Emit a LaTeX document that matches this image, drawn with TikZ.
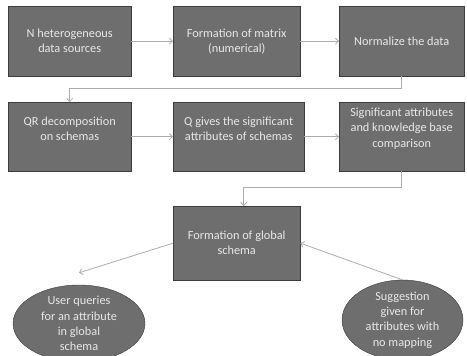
\documentclass[tikz,border=0pt]{standalone}
\usepackage{fontspec}
\setmainfont{Carlito}
\usetikzlibrary{arrows.meta, shapes.geometric}

\definecolor{boxfill}{RGB}{110,110,110}
\definecolor{boxline}{RGB}{60,60,60}
\definecolor{boxtext}{RGB}{232,232,232}
\definecolor{arrline}{RGB}{172,172,172}

\tikzset{
	box/.style={draw=boxline, fill=boxfill, text=boxtext, align=center,
		inner sep=0pt, anchor=north west,
		font=\fontsize{12.3}{15}\selectfont},
	oval/.style={ellipse, draw=boxline, fill=boxfill, text=boxtext,
		align=center, inner sep=0pt, font=\fontsize{12.3}{15.3}\selectfont},
	txt/.style={text=boxtext, align=center, font=\fontsize{12.3}{15.6}\selectfont},
	link/.style={draw=arrline, line width=0.8pt,
		-{Straight Barb[length=3pt, width=6pt]}}
}

\begin{document}
\begin{tikzpicture}[x=1pt, y=-1pt]
	% параметры
	\def\H{70}  % высота блоков верхнего ряда
	\def\S{8pt} % подъём текста во втором ряду

	\useasboundingbox (0,0) rectangle (467,356);

	% первый ряд
	\node[box, minimum width=123pt, minimum height=\H pt] (src) at (8,6)
		{N heterogeneous\\data sources};
	\node[box, minimum width=127pt, minimum height=\H pt] (mtx) at (173,6)
		{Formation of matrix\\(numerical)};
	\node[box, minimum width=125pt, minimum height=\H pt] (norm) at (339,6)
		{Normalize the data};

	% второй ряд
	\node[box, minimum width=123pt, minimum height=69pt,
		label={[txt, yshift=\S]center:QR decomposition\\on schemas}] (qr) at (8,102) {};
	\node[box, minimum width=131pt, minimum height=69pt,
		label={[txt, yshift=\S]center:Q gives the significant\\attributes of schemas}] (sig) at (173,102) {};
	\node[box, minimum width=125pt, minimum height=69pt,
		label={[txt, yshift=\S]center:Significant attributes\\and knowledge  base\\comparison}] (kb) at (339,102) {};

	% глобальная схема
	\node[box, minimum width=127pt, minimum height=74pt] (glob) at (173,206)
		{Formation of global\\schema};

	% овалы
	\node[oval, minimum width=132pt, minimum height=63pt] (user) at (79,323.5)
		{User queries\\for an attribute\\in global\\schema};
	\node[oval, minimum width=121pt, minimum height=74pt] (sugg) at (402.5,320)
		{Suggestion\\given for\\attributes with\\no mapping};

	% стрелки
	\draw[link] (src) -- (mtx);
	\draw[link] (mtx) -- (norm);
	\draw[link] (norm.south) -- ++(0,12) -| (qr.north);
	\draw[link] (qr) -- (sig);
	\draw[link] (sig) -- (kb);
	\draw[link] (kb.south) -- ++(0,16) -| ([xshift=7pt]glob.north);
	\coordinate (uq) at ([yshift=12pt]user.north);
	\draw[link] (glob.west) -- (uq);
	\draw[link] (sugg.north) -- (glob.east);
\end{tikzpicture}
\end{document}
